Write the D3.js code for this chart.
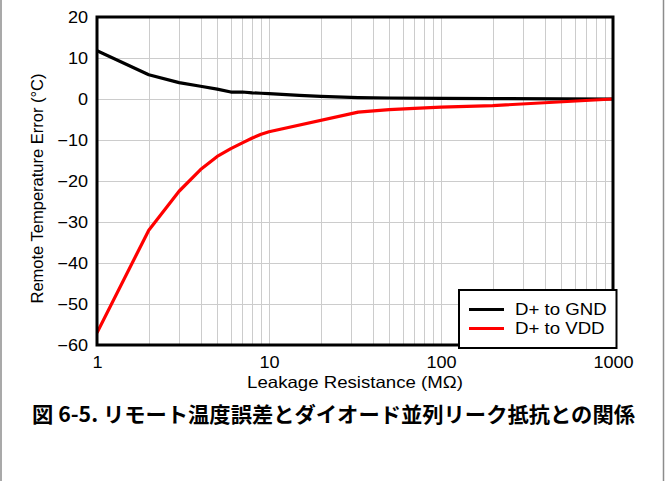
<!DOCTYPE html>
<html>
<head>
<meta charset="utf-8">
<script src="https://cdn.jsdelivr.net/npm/d3@7/dist/d3.min.js"></script>
<style>
  html, body { margin: 0; padding: 0; background: #fff; }
  svg { display: block; }
  text { font-family: "Liberation Sans", Arial, sans-serif; fill: #000; }
  .wide { transform-box: fill-box; transform: scaleX(1.13); }
  .wide-c { transform-origin: center; }
  .wide-r { transform-origin: right center; }
  .wide-l { transform-origin: left center; }
</style>
</head>
<body>
<script>
// Leakage resistance (MΩ) sample points for each connection
const resGnd = [1, 2, 3, 4, 5, 6, 7, 8, 9, 10, 15, 20, 33, 50, 100, 200, 500, 1000];
const errGnd = [11.8, 5.9, 4.0, 3.1, 2.4, 1.7, 1.7, 1.5, 1.4, 1.3, 0.9, 0.65, 0.35, 0.25, 0.15, 0.1, 0.05, 0];
const resVdd = [1, 2, 3, 4, 5, 6, 7, 8, 9, 10, 33, 50, 70, 100, 200, 1000];
const errVdd = [-57, -32, -22.5, -17.2, -14, -12.1, -10.7, -9.5, -8.6, -8.0, -3.2, -2.6, -2.3, -2.0, -1.6, 0];

const seriesNames = ["D+ to GND", "D+ to VDD"];
const seriesColors = ["#000000", "#ff0000"];
const xTickValues = [1, 10, 100, 1000];
const yTickValues = [-60, -50, -40, -30, -20, -10, 0, 10, 20];
const xTitle = "Leakage Resistance (MΩ)";
const yTitle = "Remote Temperature Error (°C)";
const caption = "図 6-5. リモート温度誤差とダイオード並列リーク抵抗との関係";

const W = 666, H = 481;
const plot = { left: 97, right: 613, top: 17, bottom: 345 };

const svg = d3.select("body").append("svg").attr("width", W).attr("height", H);

// Page side rules
svg.append("line").attr("x1", 1).attr("x2", 1).attr("y1", 0).attr("y2", H)
  .attr("stroke", "#8c8c8c").attr("stroke-width", 1.5);
svg.append("line").attr("x1", 663.5).attr("x2", 663.5).attr("y1", 0).attr("y2", H)
  .attr("stroke", "#8c8c8c").attr("stroke-width", 1.5);

const x = d3.scaleLog().domain([1, 1000]).range([plot.left, plot.right]);
const y = d3.scaleLinear().domain([-60, 20]).range([plot.bottom, plot.top]);

// Grid: every minor log step vertically, every 10 °C horizontally
const minor = [];
for (let dec = 1; dec < 1000; dec *= 10) for (let k = 2; k <= 9; k++) minor.push(k * dec);
const grid = svg.append("g").attr("stroke", "#cccccc").attr("stroke-width", 1);
grid.selectAll(".vx").data(minor.concat([10, 100])).enter().append("line")
  .attr("x1", d => Math.round(x(d)) + 0.5).attr("x2", d => Math.round(x(d)) + 0.5)
  .attr("y1", plot.top).attr("y2", plot.bottom);
grid.selectAll(".hy").data(yTickValues.slice(1, -1)).enter().append("line")
  .attr("y1", d => Math.round(y(d)) + 0.5).attr("y2", d => Math.round(y(d)) + 0.5)
  .attr("x1", plot.left).attr("x2", plot.right);

// Axes (labels only, frame drawn separately)
const xAxis = d3.axisBottom(x).tickValues(xTickValues).tickFormat(d3.format("d")).tickSize(0).tickPadding(12);
const gx = svg.append("g").attr("transform", `translate(0,${plot.bottom})`).call(xAxis);
gx.select(".domain").remove();
gx.selectAll("text").attr("class", "wide wide-c")
  .style("font-size", "16px").style("font-family", "Liberation Sans, Arial, sans-serif");

const yAxis = d3.axisLeft(y).tickValues(yTickValues).tickSize(0).tickPadding(9);
const gy = svg.append("g").attr("transform", `translate(${plot.left},0)`).call(yAxis);
gy.select(".domain").remove();
gy.selectAll("text").attr("class", "wide wide-r")
  .style("font-size", "16px").style("font-family", "Liberation Sans, Arial, sans-serif");

// Data lines
const line = d3.line().x(d => x(d[0])).y(d => y(d[1]));
const series = [
  d3.zip(resGnd, errGnd),
  d3.zip(resVdd, errVdd)
];
svg.append("clipPath").attr("id", "plotclip").append("rect")
  .attr("x", plot.left).attr("y", plot.top).attr("width", plot.right - plot.left).attr("height", plot.bottom - plot.top);
svg.append("g").attr("clip-path", "url(#plotclip)")
  .selectAll("path").data(series).enter().append("path")
  .attr("d", line).attr("fill", "none")
  .attr("stroke", (d, i) => seriesColors[i]).attr("stroke-width", 3.2)
  .attr("stroke-linejoin", "round");

// Plot frame
svg.append("rect").attr("x", plot.left).attr("y", plot.top)
  .attr("width", plot.right - plot.left).attr("height", plot.bottom - plot.top)
  .attr("fill", "none").attr("stroke", "#000").attr("stroke-width", 3);

// Axis titles
svg.append("text").attr("x", (plot.left + plot.right) / 2).attr("y", 388)
  .attr("class", "wide wide-c")
  .attr("text-anchor", "middle").style("font-size", "16.5px").text(xTitle);
svg.append("text").attr("transform", "translate(43,188.5) rotate(-90)")
  .attr("text-anchor", "middle").style("font-size", "16.5px").text(yTitle);

// Legend
const lg = svg.append("g");
lg.append("rect").attr("x", 459).attr("y", 290).attr("width", 157.5).attr("height", 58)
  .attr("fill", "#fff").attr("stroke", "#000").attr("stroke-width", 2);
seriesNames.forEach((name, i) => {
  const cy = 309.5 + i * 19;
  lg.append("line").attr("x1", 469).attr("x2", 504).attr("y1", cy).attr("y2", cy)
    .attr("stroke", seriesColors[i]).attr("stroke-width", 3.2);
  lg.append("text").attr("x", 515).attr("y", cy + 5.8)
    .attr("class", "wide wide-l").style("font-size", "16.5px").text(name);
});

// Figure caption
svg.append("text").attr("x", 32).attr("y", 422)
  .attr("textLength", 603).attr("lengthAdjust", "spacingAndGlyphs")
  .style("font-family", "'Noto Sans CJK JP', sans-serif").style("font-weight", "bold")
  .style("font-size", "21px").text(caption);
</script>
</body>
</html>
